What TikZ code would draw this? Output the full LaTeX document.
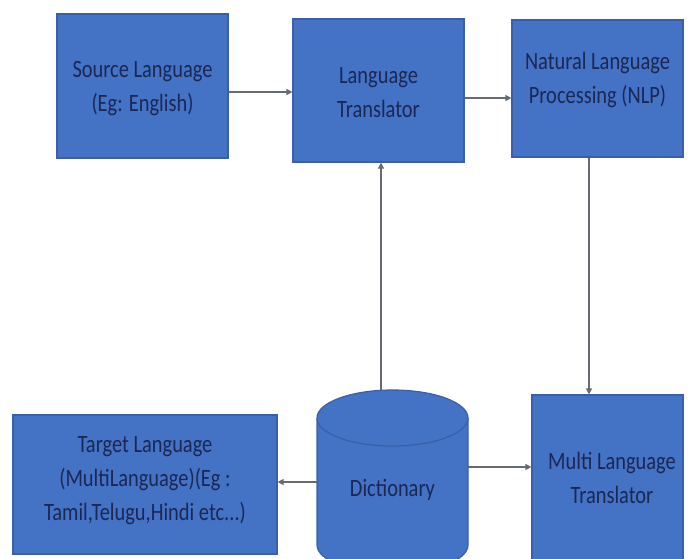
\documentclass[tikz,border=0pt]{standalone}
\usepackage{fontspec}
\setmainfont{Carlito}
\usetikzlibrary{arrows.meta}
\definecolor{boxblue}{HTML}{4472C4}
\definecolor{boxedge}{HTML}{3A5FA8}
\definecolor{txtnavy}{HTML}{1B2755}
\definecolor{linegray}{HTML}{666A72}
\tikzset{
  blockbox/.style={draw=boxedge, line width=1.2bp, fill=boxblue, inner sep=0pt},
  blocktext/.style={text=txtnavy, align=center, inner sep=0pt,
    font=\fontsize{20.5}{28}\selectfont, yscale=1.22},
  conn/.style={draw=linegray, line width=1.4bp, -{Triangle[length=6bp,width=6bp]}}
}
\begin{document}
\begin{tikzpicture}[x=1bp,y=-1bp]
\useasboundingbox (0,0) rectangle (691,559);
\clip (0,0) rectangle (691,559);
% top row
\node[blockbox, minimum width=171bp, minimum height=144bp] (src) at (142.5,86) {};
\node[blocktext] (srct) at (142.5,89) {Source Language\\(Eg: English)};
\node[blockbox, minimum width=171bp, minimum height=143bp] (lt) at (378.5,90.5) {};
\node[blocktext] (ltt) at (378.5,93) {Language\\Translator};
\node[blockbox, minimum width=171bp, minimum height=137bp] (nlp) at (597.5,88.5) {};
\node[blocktext] (nlpt) at (597.5,80) {Natural Language\\Processing (NLP)};
% bottom row
\node[blockbox, minimum width=264bp, minimum height=139bp] (tgt) at (145,484.5) {};
\node[blocktext] (tgtt) at (145,481) {Target Language\\(MultiLanguage)(Eg :\\Tamil,Telugu,Hindi etc...)};
\node[blockbox, minimum width=151bp, minimum height=190bp] (mlt) at (607.5,490) {};
\node[blocktext] (mltt) at (612,478) {Multi Language\\Translator};
% dictionary cylinder
\coordinate (dictop) at (381,390);
\fill[boxblue] (317,418) -- (317,545) arc[start angle=180, end angle=360, x radius=75.5, y radius=-28] -- (468,418) -- cycle;
\draw[boxedge, line width=1.2bp] (317,418) -- (317,545) arc[start angle=180, end angle=360, x radius=75.5, y radius=-28] -- (468,418);
\draw[boxedge, line width=1.2bp, fill=boxblue] (392.5,418) ellipse[x radius=75.5, y radius=28];
\node[blocktext] (dict) at (392.5,490) {Dictionary};
\coordinate (dleft) at (317,482);
\coordinate (dright) at (468,467);
% connectors
\draw[conn] (src.east |- 0,92) -- (lt.west |- 0,92);
\draw[conn] (lt.east |- 0,98) -- (nlp.west |- 0,98);
\draw[conn] (dictop) -- (lt.south -| dictop);
\draw[conn] (nlp.south -| 589,0) -- (mlt.north -| 589,0);
\draw[conn] (dleft) -- (tgt.east |- dleft);
\draw[conn] (dright) -- (mlt.west |- dright);
\end{tikzpicture}
\end{document}
